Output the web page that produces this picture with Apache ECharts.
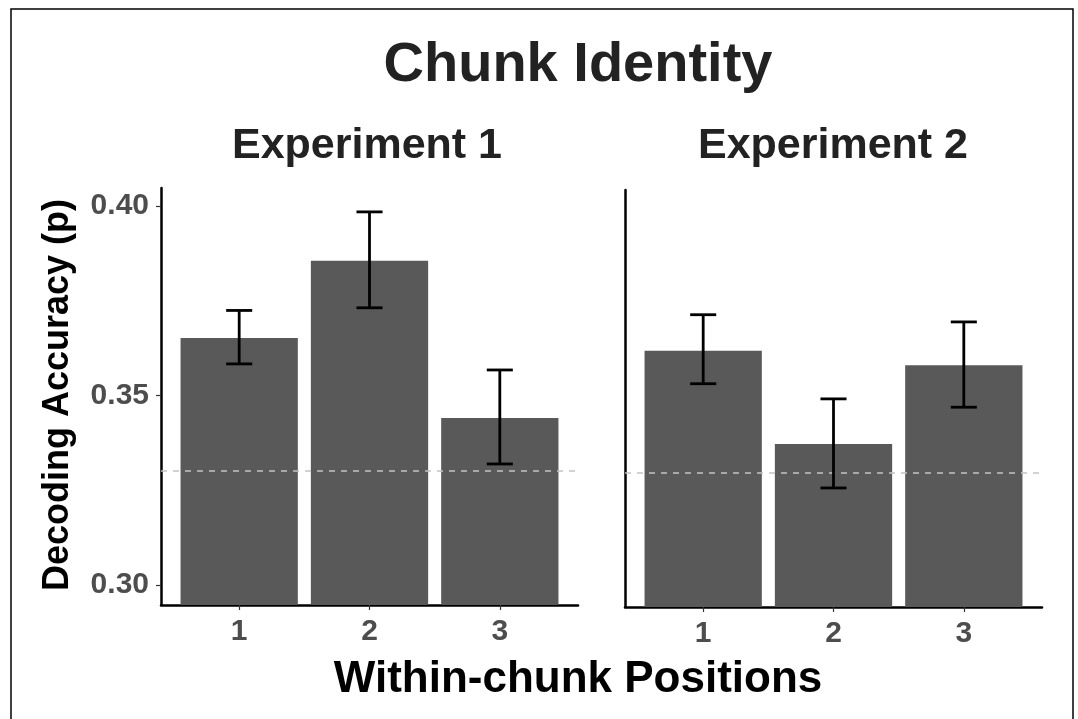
<!DOCTYPE html>
<html>
<head>
<meta charset="utf-8">
<script src="https://cdn.jsdelivr.net/npm/echarts@6/dist/echarts.min.js"></script>
<style>
html,body{margin:0;padding:0;background:#fff;}
#chart{width:1078px;height:719px;}
</style>
</head>
<body>
<div id="chart"></div>
<script>
// ---- data ----
const positions = [1, 2, 3];
const positionLabels = ['1', '2', '3'];
const exp1Mean  = [0.3651, 0.3855, 0.3440];
const exp1Upper = [0.3724, 0.3984, 0.3567];
const exp1Lower = [0.3583, 0.3731, 0.3319];
const exp2Mean  = [0.3623, 0.3377, 0.3585];
const exp2Upper = [0.3718, 0.3496, 0.3699];
const exp2Lower = [0.3536, 0.3261, 0.3474];
const chanceLevel = 0.33;
const yTicks = [0.30, 0.35, 0.40];
const mainTitle = 'Chunk Identity';
const facetTitles = ['Experiment 1', 'Experiment 2'];
const xTitle = 'Within-chunk Positions';
const yTitle = 'Decoding Accuracy (p)';

// ---- chart ----
const FONT = '"Liberation Sans", Arial, Helvetica, sans-serif';
const Y_MIN = 0.2947, Y_MAX = 0.4047;
const BAR_HALF = 0.45, CAP_HALF = 0.1;

const chart = echarts.init(document.getElementById('chart'), null, {renderer: 'canvas'});

function barRender(params, api) {
  const x = api.value(0), v = api.value(1);
  const p1 = api.coord([x - BAR_HALF, v]);
  const p2 = api.coord([x + BAR_HALF, Y_MIN]);
  return {
    type: 'rect',
    shape: {x: p1[0], y: p1[1], width: p2[0] - p1[0], height: p2[1] - p1[1]},
    style: {fill: '#595959'}
  };
}
function errRender(params, api) {
  const x = api.value(0), lo = api.value(1), hi = api.value(2);
  const top = api.coord([x, hi]), bot = api.coord([x, lo]);
  const tl = api.coord([x - CAP_HALF, hi]), tr = api.coord([x + CAP_HALF, hi]);
  const bl = api.coord([x - CAP_HALF, lo]), br = api.coord([x + CAP_HALF, lo]);
  const st = {stroke: '#000', lineWidth: 2.8, fill: null};
  return {
    type: 'group',
    children: [
      {type: 'line', shape: {x1: top[0], y1: top[1], x2: bot[0], y2: bot[1]}, style: st},
      {type: 'line', shape: {x1: tl[0], y1: tl[1], x2: tr[0], y2: tr[1]}, style: st},
      {type: 'line', shape: {x1: bl[0], y1: bl[1], x2: br[0], y2: br[1]}, style: st}
    ]
  };
}

function xAxisDef(gi) {
  return {
    type: 'value', gridIndex: gi, min: 0.4, max: 3.6,
    axisLine: {show: true, lineStyle: {color: '#000', width: 2.5}},
    axisTick: {show: true, length: 5, lineStyle: {color: '#333', width: 1.2}, customValues: positions},
    axisLabel: {show: true, customValues: positions, margin: 12,
      formatter: v => positionLabels[positions.indexOf(v)] || '',
      color: '#4d4d4d', fontSize: 30, fontWeight: 'bold', fontFamily: FONT},
    splitLine: {show: false}
  };
}
function yAxisDef(gi, showLabels) {
  return {
    type: 'value', gridIndex: gi, min: Y_MIN, max: Y_MAX,
    axisLine: {show: true, lineStyle: {color: '#000', width: 2.5}},
    axisTick: {show: showLabels, length: 5, lineStyle: {color: '#333', width: 1.2}, customValues: yTicks},
    axisLabel: {show: showLabels, customValues: yTicks, margin: 12,
      formatter: v => v.toFixed(2),
      color: '#4d4d4d', fontSize: 30, fontWeight: 'bold', fontFamily: FONT},
    splitLine: {show: false}
  };
}

function seriesFor(gi, mean, lower, upper) {
  return [
    {
      type: 'custom', xAxisIndex: gi, yAxisIndex: gi, clip: true,
      renderItem: barRender,
      data: positions.map((p, i) => [p, mean[i]]),
      z: 2,
      markLine: {
        silent: true, symbol: ['none', 'none'], label: {show: false},
        lineStyle: {color: '#c4c4c4', type: [6, 6], width: 1.5},
        data: [{yAxis: chanceLevel}],
        z: 3
      }
    },
    {
      type: 'custom', xAxisIndex: gi, yAxisIndex: gi,
      renderItem: errRender,
      data: positions.map((p, i) => [p, lower[i], upper[i]]),
      z: 4
    }
  ];
}

const textStyleBase = {fontFamily: FONT, fontWeight: 'bold'};

chart.setOption({
  animation: false,
  backgroundColor: '#fff',
  grid: [
    {left: 161, top: 188, width: 417, height: 417},
    {left: 625, top: 190, width: 417, height: 417}
  ],
  xAxis: [xAxisDef(0), xAxisDef(1)],
  yAxis: [yAxisDef(0, true), yAxisDef(1, false)],
  series: [].concat(
    seriesFor(0, exp1Mean, exp1Lower, exp1Upper),
    seriesFor(1, exp2Mean, exp2Lower, exp2Upper)
  ),
  graphic: [
    {type: 'rect', shape: {x: 11, y: 9, width: 1062, height: 730},
      style: {fill: null, stroke: '#000', lineWidth: 1.5}, silent: true},
    {type: 'text', x: 578, y: 66, style: Object.assign({text: mainTitle, fontSize: 56, fill: '#222',
      textAlign: 'center', textVerticalAlign: 'middle'}, textStyleBase)},
    {type: 'text', x: 367, y: 146, style: Object.assign({text: facetTitles[0], fontSize: 43, fill: '#222',
      textAlign: 'center', textVerticalAlign: 'middle'}, textStyleBase)},
    {type: 'text', x: 833, y: 146, style: Object.assign({text: facetTitles[1], fontSize: 43, fill: '#222',
      textAlign: 'center', textVerticalAlign: 'middle'}, textStyleBase)},
    {type: 'text', x: 578, y: 680, style: Object.assign({text: xTitle, fontSize: 44, fill: '#000',
      textAlign: 'center', textVerticalAlign: 'middle'}, textStyleBase)},
    {type: 'text', x: 58, y: 395, rotation: Math.PI / 2, style: Object.assign({text: yTitle, fontSize: 36, fill: '#000',
      textAlign: 'center', textVerticalAlign: 'middle'}, textStyleBase)}
  ]
});
</script>
</body>
</html>
